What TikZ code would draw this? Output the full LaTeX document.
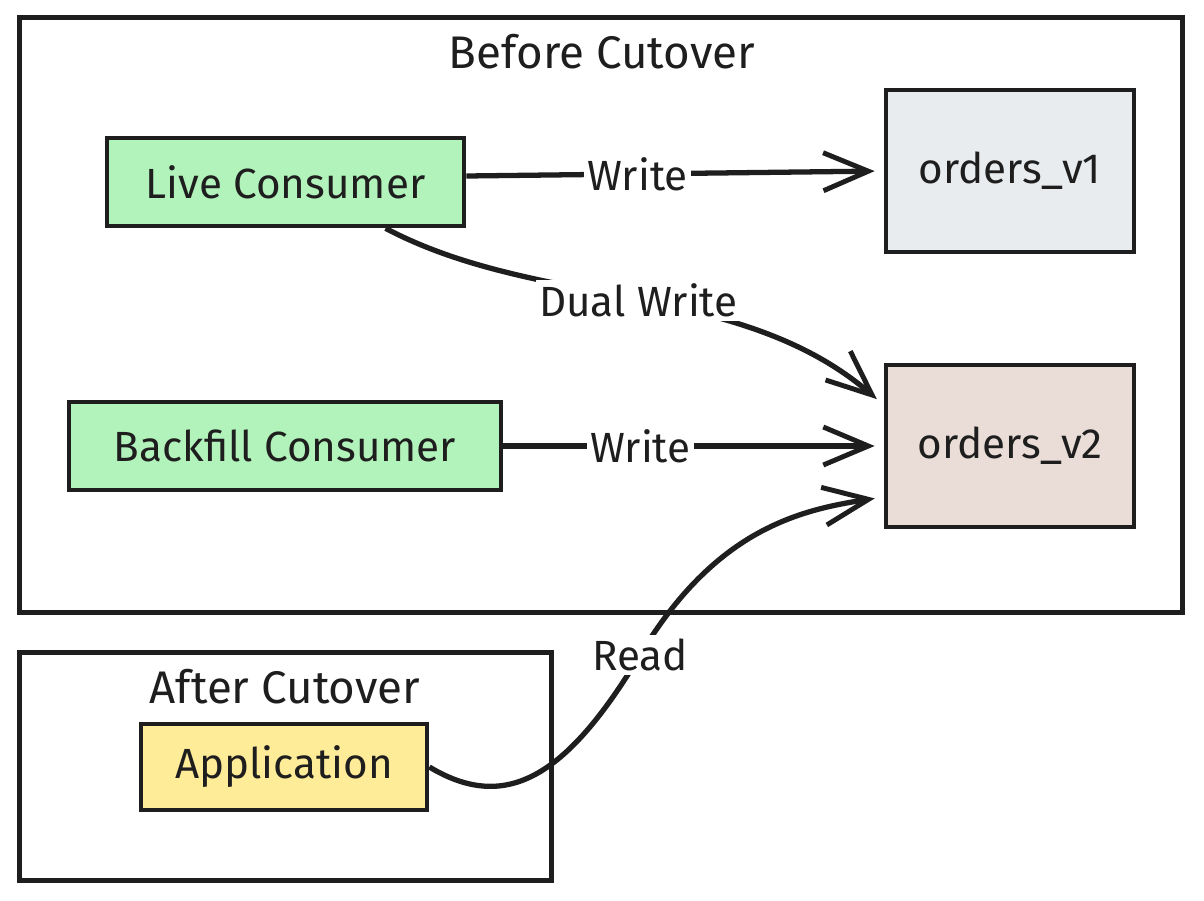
\documentclass[tikz,border=0pt]{standalone}
\usepackage{fontspec}
\setmainfont{Fira Sans}
\usetikzlibrary{arrows.meta}

\definecolor{consumergreen}{HTML}{B2F2BB}
\definecolor{tablegray}{HTML}{E9ECEF}
\definecolor{tablerose}{HTML}{EADDD7}
\definecolor{appyellow}{HTML}{FFEC99}
\definecolor{ink}{HTML}{1E1E1E}

\tikzset{
  frame/.style={draw=ink, line width=1.4pt},
  box/.style={draw=ink, line width=1.3pt, font=\fontsize{12}{14}\selectfont},
  flow/.style={draw=ink, line width=1.5pt, shorten >=0.09cm,
    -{Straight Barb[length=0.45cm, width=0.38cm, line width=1.4pt]}},
  tag/.style={fill=white, inner sep=1pt, font=\fontsize{12}{14}\selectfont},
  heading/.style={font=\fontsize{13}{15}\selectfont}
}

\begin{document}
\begin{tikzpicture}[x=0.01cm, y=-0.01cm, text=ink]
	\useasboundingbox (0,0) rectangle (1204,900);
	% frames
	\node[frame, minimum width=11.62cm, minimum height=5.94cm] (before) at (601,315) {};
	\node[heading] (beforetitle) at (602,52) {Before Cutover};
	\node[frame, minimum width=5.31cm, minimum height=2.27cm] (after) at (285.5,766.5) {};
	\node[heading] (aftertitle) at (285,687) {After Cutover};
	% consumers and tables
	\node[box, fill=consumergreen, minimum width=3.57cm, minimum height=0.88cm] (live) at (285.5,182) {Live Consumer};
	\node[box, fill=consumergreen, minimum width=4.32cm, minimum height=0.88cm] (backfill) at (285,446) {Backfill Consumer};
	\node[box, fill=tablegray, minimum width=2.48cm, minimum height=1.62cm] (ordersv1) at (1010,171) {orders\_v1};
	\node[box, fill=tablerose, minimum width=2.48cm, minimum height=1.62cm] (ordersv2) at (1010,446) {orders\_v2};
	\node[box, fill=appyellow, minimum width=2.86cm, minimum height=0.86cm] (app) at (284,767) {Application};
	% connectors
	\draw[flow] ([yshift=0.06cm]live.east) -- node[tag, pos=0.41]{Write} (ordersv1.west);
	\draw[flow] ([xshift=1cm]live.south) .. controls +(155,82) and +(-145,-125) ..
		node[tag]{Dual Write} ([yshift=0.41cm]ordersv2.west);
	\draw[flow] (backfill.east) -- node[tag, pos=0.36]{Write} (ordersv2.west);
	\draw[flow] (app.east) .. controls +(75,45) and +(-75,125) .. (640,655)
		node[tag]{Read}
		.. controls +(75,-125) and +(-85,13) .. ([yshift=-0.51cm]ordersv2.west);
\end{tikzpicture}
\end{document}
